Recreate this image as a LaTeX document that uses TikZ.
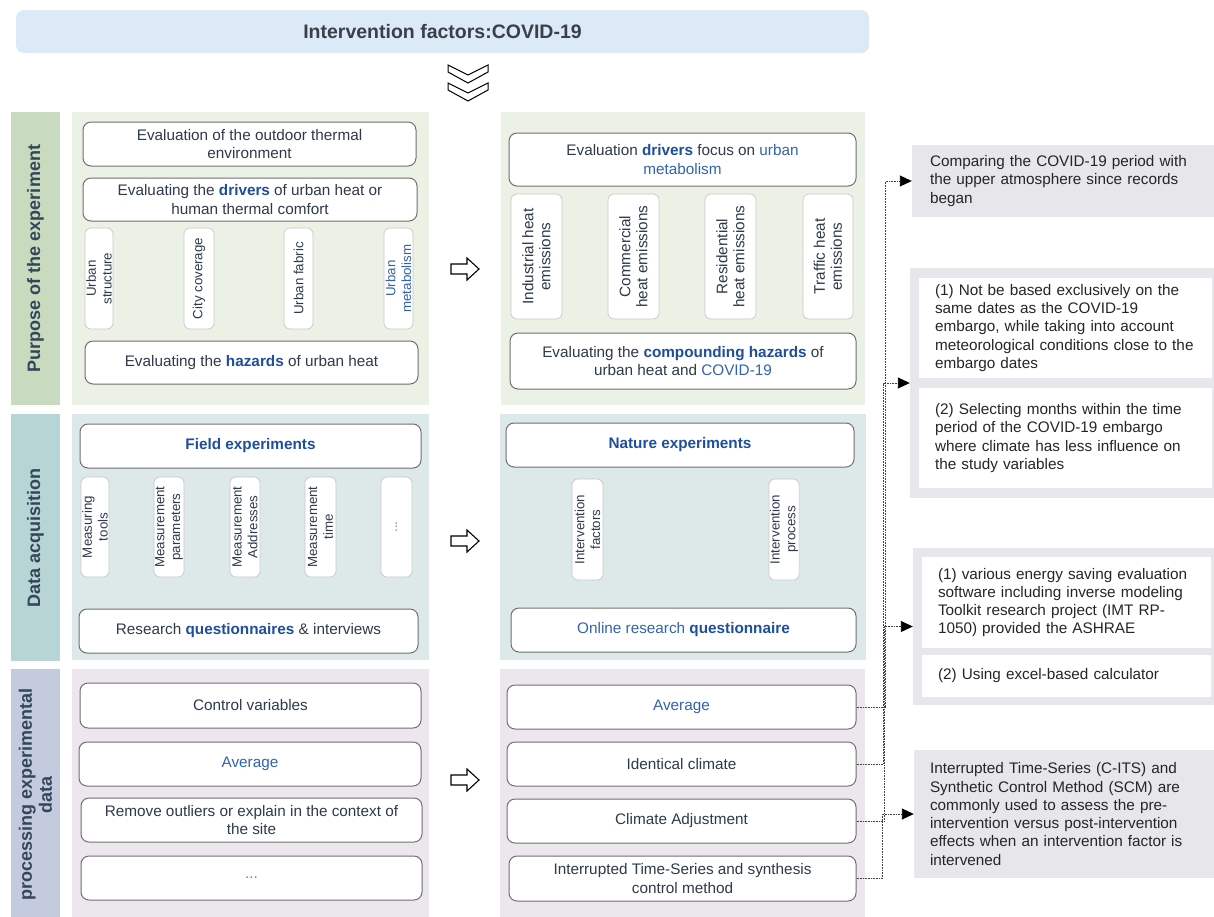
\documentclass[tikz,border=0pt]{standalone}
\usepackage{fontspec}
\setmainfont{Liberation Sans}
\usetikzlibrary{arrows.meta}

\definecolor{headfill}{HTML}{DCEAF7}
\definecolor{headtxt}{HTML}{3A3F48}
\definecolor{greenbar}{HTML}{C8DBBF}
\definecolor{greenpan}{HTML}{ECF1E5}
\definecolor{tealbar}{HTML}{B8D5D5}
\definecolor{tealpan}{HTML}{DDE8E8}
\definecolor{lavbar}{HTML}{C5CBDE}
\definecolor{lavpan}{HTML}{ECE7EC}
\definecolor{rgray}{HTML}{E6E6EB}
\definecolor{boxline}{HTML}{707070}
\definecolor{vline}{HTML}{C8C8C8}
\definecolor{labtxt}{HTML}{33465A}
\definecolor{txt}{HTML}{2E3A4B}
\definecolor{notetxt}{HTML}{262626}
\definecolor{kwblue}{HTML}{1F4E9B}
\definecolor{ltblue}{HTML}{3463AE}
\definecolor{connc}{HTML}{404040}

\newcommand{\kwd}[1]{\textbf{\textcolor{kwblue}{#1}}}
\newcommand{\blu}[1]{\textcolor{ltblue}{#1}}

\tikzset{
  pbox/.style={draw=boxline, fill=white, rounded corners=8pt, line width=1pt,
    align=center, inner sep=1pt, text=txt, font=\fontsize{15.3}{18.3}\selectfont},
  vsmall/.style={draw=vline, fill=white, rounded corners=6pt, line width=0.7pt,
    rotate=90, align=center, inner sep=1pt, text=txt, font=\fontsize{13.3}{15.8}\selectfont},
  vbig/.style={vsmall, font=\fontsize{15.3}{17}\selectfont},
  sidelab/.style={rotate=90, align=center, text=labtxt, inner sep=0pt,
    font=\fontsize{18}{20}\selectfont\bfseries},
  note/.style={fill=rgray, align=left, text=notetxt, inner ysep=0pt, inner xsep=16pt,
    font=\fontsize{15.3}{18.3}\selectfont},
  wnote/.style={note, fill=white},
  conn/.style={draw=connc, line width=0.9pt, dash pattern=on 0.9pt off 0.7pt,
    -{Triangle[length=12pt,width=11pt,black]}},
}

\begin{document}
\begin{tikzpicture}[x=1pt,y=-1pt]
  \useasboundingbox (0,0) rectangle (1214,916);

  % header and chevrons
  \node[fill=headfill, rounded corners=8pt, minimum width=853pt, minimum height=43pt,
    text=headtxt, font=\fontsize{19.5}{22}\selectfont\bfseries] (head) at (442.5,31.5)
    {Intervention factors:COVID-19};
  \foreach \d in {0,18}
    \draw[line width=1pt, fill=white, line join=miter]
      (448,65+\d) -- (468,75+\d) -- (488,65+\d) -- (488,72+\d) -- (468,83+\d) -- (448,72+\d) -- cycle;

  % panels
  \fill[greenpan] (72,112) rectangle (429,405);
  \fill[greenpan] (501,112) rectangle (865,405);
  \fill[tealpan] (72,414) rectangle (429,660);
  \fill[tealpan] (500,414) rectangle (866,660);
  \fill[lavpan] (72,669) rectangle (429,920);
  \fill[lavpan] (500,669) rectangle (865,920);

  % side labels
  \node[sidelab, fill=greenbar, minimum width=293pt, minimum height=49pt] (sPurpose) at (35.5,258.5)
    {Purpose of the experiment};
  \node[sidelab, fill=tealbar, minimum width=247pt, minimum height=49pt] (sData) at (35.5,537.5)
    {Data acquisition};
  \node[sidelab, fill=lavbar, minimum width=251pt, minimum height=49pt] (sProc) at (35.5,794.5)
    {processing experimental\\data};

  % block arrows between columns
  \foreach \y in {269,541,780}
    \draw[line width=1.1pt, fill=white, line join=miter]
      (451,\y-5) -- (467,\y-5) -- (467,\y-11) -- (479,\y) -- (467,\y+11) -- (467,\y+5) -- (451,\y+5) -- cycle;

  % left: purpose
  \node[pbox, minimum width=333pt, minimum height=44pt] (pOutdoor) at (249.5,144)
    {Evaluation of the outdoor thermal\\environment};
  \node[pbox, minimum width=334pt, minimum height=43pt] (pDrivers) at (250,199.5)
    {Evaluating the \kwd{drivers} of urban heat or\\human thermal comfort};
  \node[vsmall, minimum width=101pt, minimum height=28pt] (pStruct) at (99,278.5) {Urban\\structure};
  \node[vsmall, minimum width=101pt, minimum height=30pt] (pCover) at (199,278.5) {City coverage};
  \node[vsmall, minimum width=101pt, minimum height=29pt] (pFabric) at (298.5,278.5) {Urban fabric};
  \node[vsmall, minimum width=101pt, minimum height=29pt, text=ltblue] (pMetab) at (398.5,278.5) {Urban\\metabolism};
  \node[pbox, minimum width=333pt, minimum height=43pt] (pHazard) at (251.5,362.5)
    {Evaluating the \kwd{hazards} of urban heat};

  % middle: purpose
  \node[pbox, minimum width=347pt, minimum height=53pt] (qDrivers) at (682.5,159.5)
    {Evaluation \kwd{drivers} focus on \blu{urban}\\\blu{metabolism}};
  \node[vbig, minimum width=125pt, minimum height=51pt] (qIndus) at (536.5,256.5) {Industrial heat\\emissions};
  \node[vbig, minimum width=125pt, minimum height=51pt] (qComm) at (633.5,256.5) {Commercial\\heat emissions};
  \node[vbig, minimum width=125pt, minimum height=51pt] (qResid) at (730.5,256.5) {Residential\\heat emissions};
  \node[vbig, minimum width=125pt, minimum height=50pt] (qTraff) at (828,256.5) {Traffic heat\\emissions};
  \node[pbox, minimum width=346pt, minimum height=56pt] (qHazard) at (683,361)
    {Evaluating the \kwd{compounding hazards} of\\urban heat and \blu{COVID-19}};

  % left: data acquisition
  \node[pbox, minimum width=341pt, minimum height=44pt] (dField) at (250.5,446) {\kwd{Field experiments}};
  \node[vsmall, minimum width=100pt, minimum height=28pt] (dTools) at (95,527) {Measuring\\tools};
  \node[vsmall, minimum width=100pt, minimum height=30pt] (dParam) at (169,527) {Measurement\\parameters};
  \node[vsmall, minimum width=100pt, minimum height=30pt] (dAddr) at (245,527) {Measurement\\Addresses};
  \node[vsmall, minimum width=100pt, minimum height=31pt] (dTime) at (320.5,527) {Measurement\\time};
  \node[vsmall, minimum width=100pt, minimum height=31pt, text=gray] (dMore) at (396.5,527) {...};
  \node[pbox, minimum width=339pt, minimum height=44pt] (dQuest) at (248.5,631)
    {Research \kwd{questionnaires} \& interviews};

  % middle: data acquisition
  \node[pbox, minimum width=348pt, minimum height=44pt] (eNature) at (680,445) {\kwd{Nature experiments}};
  \node[vsmall, minimum width=101pt, minimum height=31pt] (eFact) at (587.5,529.5) {Intervention\\factors};
  \node[vsmall, minimum width=101pt, minimum height=30pt] (eProc) at (784,529.5) {Intervention\\process};
  \node[pbox, minimum width=345pt, minimum height=44pt] (eOnline) at (683.5,630)
    {\blu{Online research} \kwd{questionnaire}};

  % left: processing
  \node[pbox, minimum width=341pt, minimum height=45pt] (fControl) at (250.5,705.5) {Control variables};
  \node[pbox, minimum width=342pt, minimum height=44pt] (fAvg) at (250,764) {\blu{Average}};
  \node[pbox, minimum width=341pt, minimum height=44pt] (fOutl) at (251.5,820)
    {Remove outliers or explain in the context of\\the site};
  \node[pbox, minimum width=341pt, minimum height=44pt, text=gray] (fMore) at (251.5,878) {...};

  % middle: processing
  \node[pbox, minimum width=349pt, minimum height=44pt] (m3a) at (681.5,707) {\blu{Average}};
  \node[pbox, minimum width=349pt, minimum height=44pt] (m3b) at (681.5,764) {Identical climate};
  \node[pbox, minimum width=349pt, minimum height=44pt] (m3c) at (681.5,821) {Climate Adjustment};
  \node[pbox, minimum width=347pt, minimum height=45pt] (m3d) at (682.5,878.5)
    {Interrupted Time-Series and synthesis\\control method};

  % right: notes
  \node[note, text width=266pt, inner xsep=18pt, minimum height=72pt] (rA) at (1063,181)
    {Comparing the COVID-19 period with\\the upper atmosphere since records\\began};
  \node[fill=rgray, minimum width=304pt, minimum height=230pt, inner sep=0pt] (rB) at (1062,383) {};
  \node[wnote, text width=261pt, minimum height=100pt] (rB1) at (1065.5,328)
    {(1) Not be based exclusively on the\\same dates as the COVID-19\\embargo, while taking into account\\meteorological conditions close to the\\embargo dates};
  \node[wnote, text width=261pt, minimum height=100pt] (rB2) at (1065.5,438)
    {(2) Selecting months within the time\\period of the COVID-19 embargo\\where climate has less influence on\\the study variables};
  \node[fill=rgray, minimum width=301pt, minimum height=157pt, inner sep=0pt] (rC) at (1063.5,626.5) {};
  \node[wnote, text width=257pt, minimum height=91pt] (rC1) at (1066.5,602.5)
    {(1) various energy saving evaluation\\software including inverse modeling\\Toolkit research project (IMT RP-\\1050) provided the ASHRAE};
  \node[wnote, text width=257pt, minimum height=42pt] (rC2) at (1066.5,676)
    {(2) Using excel-based calculator};
  \node[note, text width=268pt, minimum height=128pt] (rD) at (1064,814)
    {Interrupted Time-Series (C-ITS) and\\Synthetic Control Method (SCM) are\\commonly used to assess the pre-\\intervention versus post-intervention\\effects when an intervention factor is\\intervened};

  % connectors
  \draw[conn] (m3a.east) -- ++(29,0) |- (rA.west);
  \draw[conn] (m3b.east) -- ++(27,0) |- (rB.west);
  \draw[conn] (m3c.east) -- ++(28,0) |- (rC.west);
  \draw[conn] (m3d.east) -- ++(26,0) |- (rD.west);
\end{tikzpicture}
\end{document}
